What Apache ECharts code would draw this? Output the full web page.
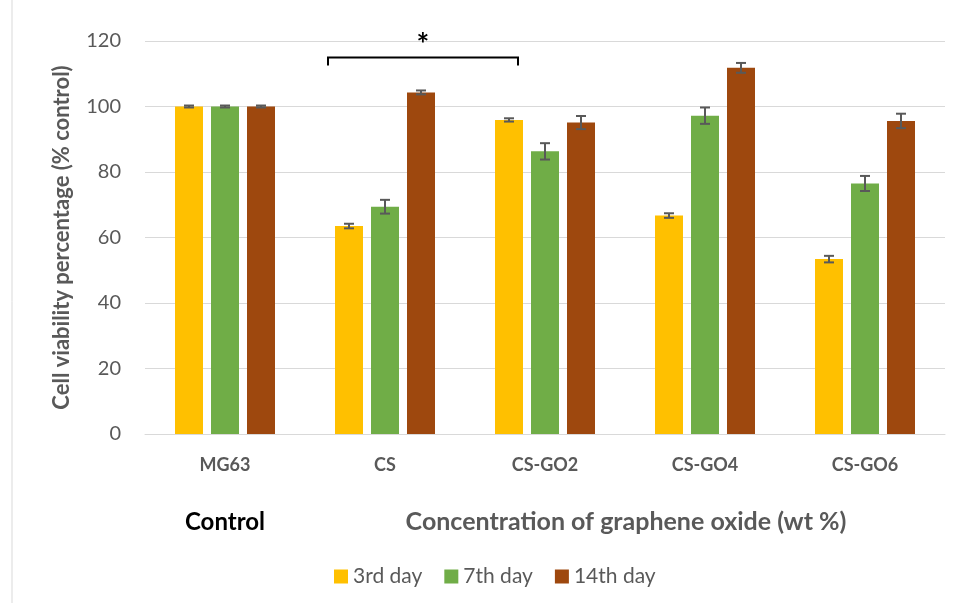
<!DOCTYPE html>
<html>
<head>
<meta charset="utf-8">
<script src="https://cdn.jsdelivr.net/npm/echarts@6/dist/echarts.min.js"></script>
<style>
  html, body { margin: 0; padding: 0; background: #fff; }
  #main { width: 959px; height: 603px; }
</style>
</head>
<body>
<div id="main"></div>
<script>
const categories = ['MG63', 'CS', 'CS-GO2', 'CS-GO4', 'CS-GO6'];
const seriesNames = ['3rd day', '7th day', '14th day'];
const day3 = [100, 63.5, 95.9, 66.7, 53.4];
const day7 = [100, 69.4, 86.3, 97.2, 76.5];
const day14 = [100, 104.3, 95.1, 111.8, 95.6];
const err3 = [0.3, 0.7, 0.5, 0.7, 1.0];
const err7 = [0.3, 2.1, 2.5, 2.5, 2.3];
const err14 = [0.3, 0.6, 2.0, 1.5, 2.2];
const yTicks = [0, 20, 40, 60, 80, 100, 120];
const colors = ['#FFC000', '#70AD47', '#9E480E'];

const FONT = 'Lato, "Open Sans", sans-serif';
const values = [day3, day7, day14];
const errors = [err3, err7, err14];

const chart = echarts.init(document.getElementById('main'));

const barW = 28;
const gapPx = 8;

function errSeries(k) {
  return {
    type: 'custom',
    name: seriesNames[k] + ' err',
    z: 10,
    renderItem: function (params, api) {
      const ci = api.value(0);
      const v = api.value(1);
      const e = api.value(2);
      const c = api.coord([ci, v]);
      const x = c[0] + (k - 1) * (barW + gapPx);
      const top = api.coord([ci, v + e])[1];
      const bot = api.coord([ci, v - e])[1];
      const st = { stroke: '#595959', lineWidth: 2 };
      const cap = 5;
      return {
        type: 'group',
        children: [
          { type: 'line', shape: { x1: x, y1: top, x2: x, y2: bot }, style: st },
          { type: 'line', shape: { x1: x - cap, y1: top, x2: x + cap, y2: top }, style: st },
          { type: 'line', shape: { x1: x - cap, y1: bot, x2: x + cap, y2: bot }, style: st }
        ]
      };
    },
    data: categories.map((c, i) => [i, values[k][i], errors[k][i]]),
    tooltip: { show: false }
  };
}

const option = {
  animation: false,
  textStyle: { fontFamily: FONT },
  grid: { left: 145, right: 14, top: 41, bottom: 169 },
  legend: {
    data: seriesNames,
    top: 561,
    left: 329,
    icon: 'rect',
    itemWidth: 14,
    itemHeight: 14,
    itemGap: 22,
    textStyle: { color: '#595959', fontSize: 21, fontFamily: FONT }
  },
  xAxis: {
    type: 'category',
    data: categories,
    axisTick: { show: false },
    axisLine: { lineStyle: { color: '#d9d9d9', width: 1 } },
    axisLabel: { color: '#595959', fontSize: 18, fontWeight: 'bold', margin: 22, fontFamily: FONT }
  },
  yAxis: {
    type: 'value',
    min: 0,
    max: 120,
    interval: 20,
    name: 'Cell viability percentage (% control)',
    nameLocation: 'middle',
    nameGap: 72,
    nameTextStyle: { color: '#595959', fontSize: 22, fontWeight: 'bold', fontFamily: FONT },
    axisLine: { show: false },
    axisTick: { show: false },
    axisLabel: { color: '#595959', fontSize: 20, margin: 24, fontFamily: FONT },
    splitLine: { lineStyle: { color: '#d9d9d9', width: 1 } }
  },
  series: [
    ...seriesNames.map((n, k) => ({
      type: 'bar',
      name: n,
      data: values[k],
      barWidth: barW,
      barGap: (gapPx / barW * 100) + '%',
      itemStyle: { color: colors[k] }
    })),
    errSeries(0), errSeries(1), errSeries(2)
  ]
};
chart.setOption(option);

// significance bracket between CS and CS-GO2 (3rd day bars)
const bracketY = 115;
const tickY = 112.5;
const offs = -(barW + gapPx) - barW / 2;
const pA = chart.convertToPixel({ gridIndex: 0 }, [1, bracketY]);
const pB = chart.convertToPixel({ gridIndex: 0 }, [2, bracketY]);
const pT = chart.convertToPixel({ gridIndex: 0 }, [1, tickY]);
const xA = pA[0] + offs - 7;
const xB = pB[0] + offs + 23;
const ctrl = chart.convertToPixel({ gridIndex: 0 }, [0, 0]);
chart.setOption({
  graphic: [
    { type: 'line', shape: { x1: 12, y1: 0, x2: 12, y2: 603 }, style: { stroke: '#d9d9d9', lineWidth: 1 } },
    { type: 'text', x: ctrl[0], y: 522, style: { text: 'Control', fill: '#000', font: 'bold 24px ' + FONT, textAlign: 'center', textVerticalAlign: 'middle' } },
    { type: 'text', x: 626, y: 522, style: { text: 'Concentration of graphene oxide (wt %)', fill: '#595959', font: 'bold 25px ' + FONT, textAlign: 'center', textVerticalAlign: 'middle' } },
    { type: 'polyline', shape: { points: [[xA, pT[1]], [xA, pA[1]], [xB, pA[1]], [xB, pT[1]]] }, style: { stroke: '#000', lineWidth: 2, fill: null } },
    { type: 'text', x: (xA + xB) / 2, y: pA[1] - 12, style: { text: '*', fill: '#000', font: 'bold 30px ' + FONT, textAlign: 'center', textVerticalAlign: 'middle' } }
  ]
});
</script>
</body>
</html>
